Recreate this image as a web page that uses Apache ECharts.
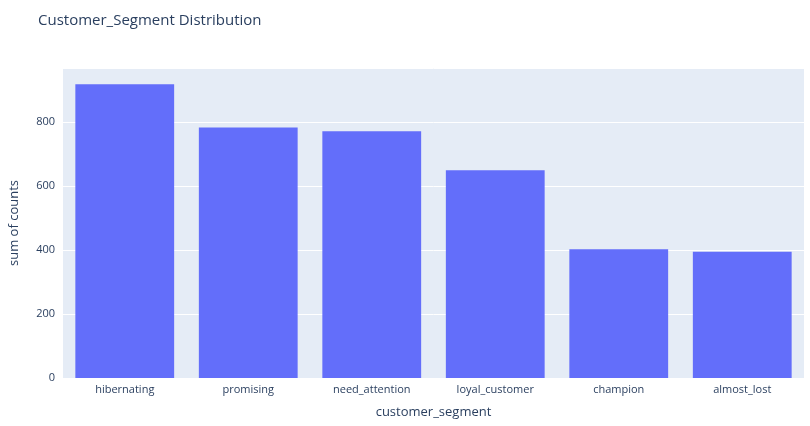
<!DOCTYPE html>
<html><head><meta charset="utf-8">
<script src="https://cdn.jsdelivr.net/npm/echarts@6/dist/echarts.min.js"></script>
<style>html,body{margin:0;padding:0;background:#fff}#c{width:810px;height:426px}</style>
</head><body><div id="c"></div>
<script>
var categories = ["hibernating","promising","need_attention","loyal_customer","champion","almost_lost"];
var counts = [919, 784, 772, 650, 403, 395];
var yTicks = [0, 200, 400, 600, 800];
var chart = echarts.init(document.getElementById('c'));
chart.setOption({
  backgroundColor: '#fff',
  title: {text: 'Customer_Segment Distribution', left: 33, top: 8,
    textStyle: {fontFamily: 'Open Sans, sans-serif', fontSize: 15, fontWeight: 'normal', color: '#2a3f5f'}},
  grid: {left: 62, right: 6, top: 68, bottom: 48, backgroundColor: '#E5ECF6', show: true, borderWidth: 0},
  xAxis: {type: 'category', data: categories, name: 'customer_segment', nameLocation: 'middle', nameGap: 28,
    nameTextStyle: {fontFamily: 'Open Sans, sans-serif', fontSize: 13, color: '#2a3f5f'},
    axisLine: {show: false}, axisTick: {show: false},
    axisLabel: {fontFamily: 'Open Sans, sans-serif', fontSize: 11, color: '#2a3f5f', margin: 6}},
  yAxis: {type: 'value', min: 0, max: 970, interval: 200, name: 'sum of counts', nameLocation: 'middle', nameGap: 42,
    nameTextStyle: {fontFamily: 'Open Sans, sans-serif', fontSize: 13, color: '#2a3f5f'},
    axisLabel: {fontFamily: 'Open Sans, sans-serif', fontSize: 11, color: '#2a3f5f',
      formatter: function(v){return yTicks.indexOf(v) >= 0 ? v : '';}},
    splitLine: {lineStyle: {color: '#fff', width: 1}}, axisLine: {show: false}, axisTick: {show: false}},
  series: [{type: 'bar', data: counts, barCategoryGap: '20%', itemStyle: {color: '#636EFA'}}]
});
</script></body></html>
